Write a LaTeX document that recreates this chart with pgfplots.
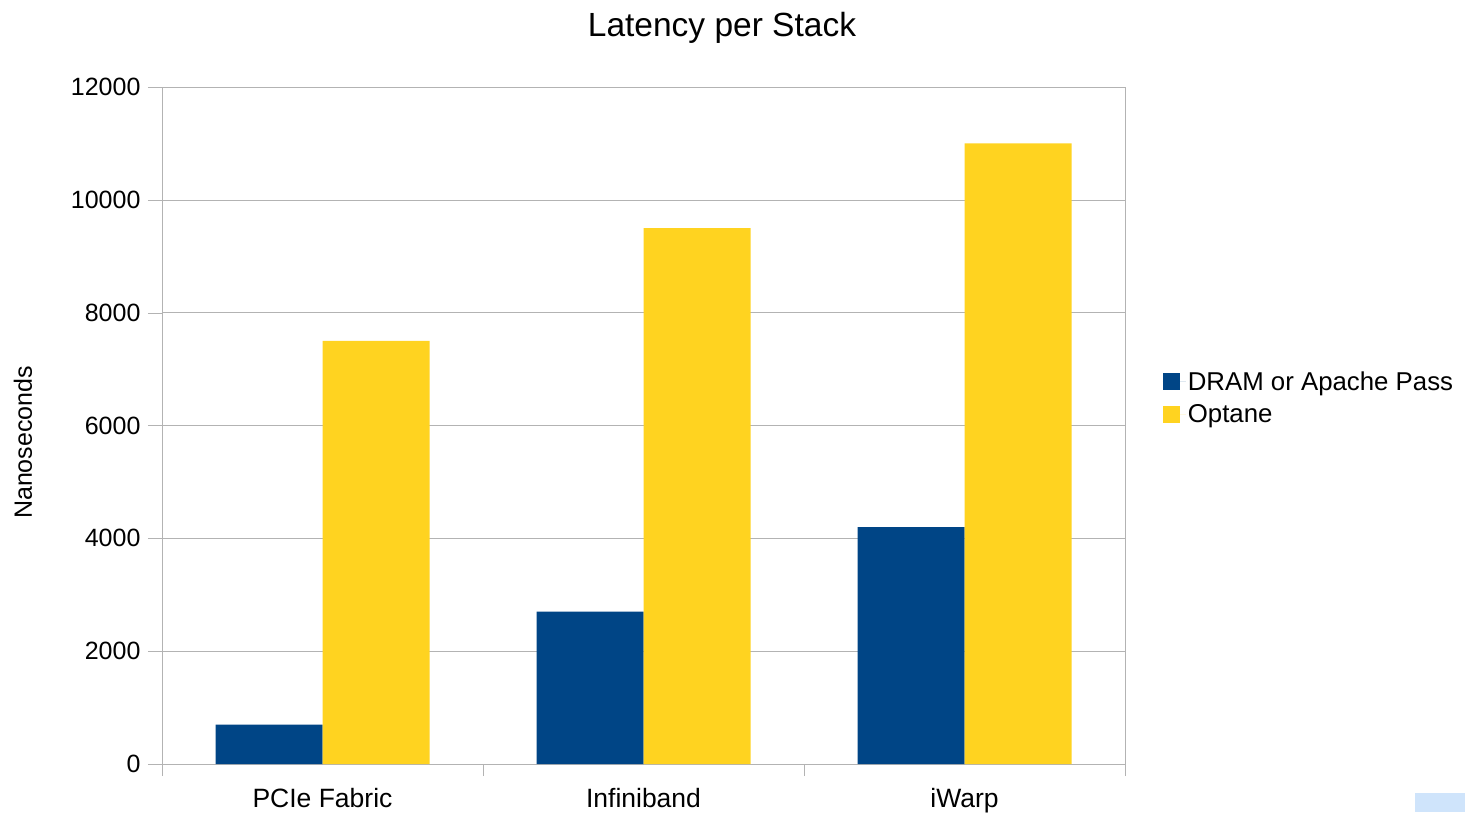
\documentclass[border=0pt]{standalone}
\usepackage{pgfplots}
\pgfplotsset{compat=1.18}
\usepackage{fontspec}
\setmainfont{Liberation Sans}
\definecolor{dblue}{HTML}{004586}
\definecolor{dyellow}{HTML}{FFD320}
\definecolor{lgray}{HTML}{B3B3B3}
\definecolor{corner}{HTML}{CFE4FB}
\begin{document}
\begin{tikzpicture}[x=1pt,y=1pt]
\path[use as bounding box] (0,0) rectangle (1465,812);
\fill[corner] (1415,0) rectangle (1465,19);
\node[anchor=base] at (722,775) {\fontsize{33.5}{40}\selectfont Latency per Stack};
\node[anchor=base,rotate=90] at (32,369.5) {\fontsize{25}{30}\selectfont Nanoseconds};
\begin{axis}[
  at={(162pt,48pt)}, anchor=south west,
  width=963pt, height=677pt, scale only axis,
  ybar=0pt, bar width=107pt,
  xmin=-0.5, xmax=2.5, ymin=0, ymax=12000,
  xtick={0,1,2}, xticklabels={PCIe Fabric, Infiniband, iWarp},
  major x tick style={draw=none},
  extra x ticks={-0.5,0.5,1.5,2.5}, extra x tick labels={},
  extra x tick style={major x tick style={draw=lgray}, major tick length=12pt, grid=none},
  ytick={0,2000,...,12000},
  ymajorgrids, grid style={lgray},
  axis line style={lgray},
  tick align=outside, major tick length=14pt, tick style={lgray},
  xtick pos=bottom, ytick pos=left,
  scaled y ticks=false,
  /pgf/number format/1000 sep={},
  /pgf/number format/assume math mode=true,
  tick label style={font=\fontsize{25}{30}\selectfont, black},
  yticklabel style={xshift=-4pt},
  xticklabel style={font=\fontsize{26.5}{31}\selectfont, yshift=-7pt},
  legend style={at={(1.036,0.541)}, anchor=west, draw=none, fill=none,
    font=\fontsize{25.8}{31}\selectfont, row sep=9pt},
  legend cell align=left,
]
\addplot[fill=dblue, draw=none, legend image code/.code={\fill[dblue] (0pt,-8.5pt) rectangle (17pt,8.5pt); \path (0pt,0pt) -- (23pt,0pt);}]
  coordinates {(0,700) (1,2700) (2,4200)};
\addplot[fill=dyellow, draw=none, legend image code/.code={\fill[dyellow] (0pt,-8.5pt) rectangle (17pt,8.5pt); \path (0pt,0pt) -- (23pt,0pt);}]
  coordinates {(0,7500) (1,9500) (2,11000)};
\legend{DRAM or Apache Pass, Optane}
\end{axis}
\end{tikzpicture}
\end{document}
